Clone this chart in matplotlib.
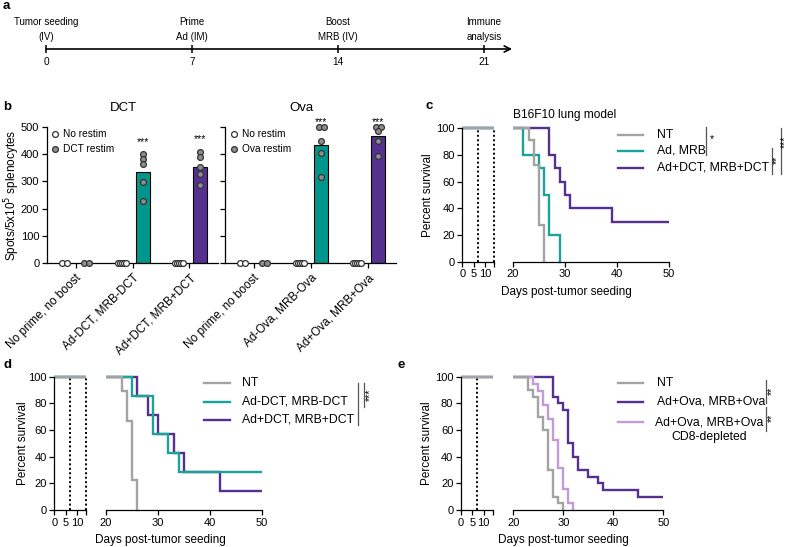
import numpy as np
import matplotlib
matplotlib.use("Agg")
import matplotlib.pyplot as plt
from matplotlib.lines import Line2D

plt.rcParams['font.family'] = ['Liberation Sans', 'DejaVu Sans']
plt.rcParams['axes.linewidth'] = 0.9

W, H = 790, 547

# ---------------- data ----------------
# a: timeline
timeline_days = [0, 7, 14, 21]
timeline_events = ["Tumor seeding\n(IV)", "Prime\nAd (IM)", "Boost\nMRB (IV)", "Immune\nanalysis"]

# b: ELISpot (spots / 5x10^5 splenocytes)
groups_dct = ["No prime, no boost", "Ad-DCT, MRB-DCT", "Ad+DCT, MRB+DCT"]
groups_ova = ["No prime, no boost", "Ad-Ova, MRB-Ova", "Ad+Ova, MRB+Ova"]
dct_norestim = [[0, 0], [0, 0, 0, 0, 0], [0, 0, 0, 0, 0]]
dct_restim = [[0, 0], [400, 381, 363, 299, 229], [410, 391, 353, 326, 287]]
ova_norestim = [[0, 0], [0, 0, 0, 0, 0], [0, 0, 0, 0, 0]]
ova_restim = [[0, 0], [500, 500, 450, 404, 315], [500, 500, 485, 450, 395]]
b_stars = ["", "***", "***"]

# c: B16F10 lung model survival
c_labels = ["NT", "Ad, MRB", "Ad+DCT, MRB+DCT"]
c_nt_days = [0, 23, 24, 25, 26]
c_nt_surv = [100, 90.9, 72.7, 27.3, 0]
c_admrb_days = [0, 22, 25, 26, 27, 29]
c_admrb_surv = [100, 80, 70, 50, 20, 0]
c_dct_days = [0, 27, 28, 29, 30, 31, 39, 50]
c_dct_surv = [100, 80, 70, 60, 50, 40, 30, 30]

# d
d_labels = ["NT", "Ad-DCT, MRB-DCT", "Ad+DCT, MRB+DCT"]
d_nt_days = [0, 23, 24, 25, 26]
d_nt_surv = [100, 88.9, 66.7, 22.2, 0]
d_minus_days = [0, 25, 29, 32, 34, 50]
d_minus_surv = [100, 85.7, 57.1, 42.9, 28.6, 28.6]
d_plus_days = [0, 26, 28, 30, 33, 35, 42, 50]
d_plus_surv = [100, 85.7, 71.4, 57.1, 42.9, 28.6, 14.3, 14.3]

# e
e_labels = ["NT", "Ad+Ova, MRB+Ova", "Ad+Ova, MRB+Ova\nCD8-depleted"]
e_nt_days = [0, 23, 24, 25, 26, 27, 28, 29, 30]
e_nt_surv = [100, 90, 85, 70, 60, 30, 10, 5, 0]
e_ova_days = [0, 28, 29, 30, 31, 32, 33, 35, 37, 38, 45, 50]
e_ova_surv = [100, 85, 80, 75, 50, 40, 30, 25, 20, 15, 10, 10]
e_cd8_days = [0, 24, 25, 26, 27, 28, 29, 30, 31, 32]
e_cd8_surv = [100, 94.7, 89.5, 78.9, 68.4, 52.6, 31.6, 15.8, 5.3, 0]

TEAL = '#00968C'
PURPLE = '#55308F'
GRAY = '#A3A3A3'
LILAC = '#C49BD6'
TEAL_LINE = '#19A39B'

fig = plt.figure(figsize=(W / 100, H / 100), dpi=100)


def add_ax(x0, y0, x1, y1):
    return fig.add_axes([x0 / W, 1 - y1 / H, (x1 - x0) / W, (y1 - y0) / H])


ov = fig.add_axes([0, 0, 1, 1], zorder=10)
ov.set_xlim(0, W)
ov.set_ylim(H, 0)
ov.axis('off')
ov.patch.set_alpha(0)

# panel letters
for lab, (x, y) in zip("abcde", [(3, 6), (3, 107), (425, 106), (3, 365), (398, 365)]):
    ov.text(x, y, lab, fontsize=9.5, fontweight='bold', va='center', ha='left')

# ---------------- a: timeline ----------------
ax_a = add_ax(46, 40, 484, 58)
ax_a.set_xlim(0, 21)
ax_a.set_ylim(-1, 1)
ax_a.axis('off')
ax_a.annotate('', xy=(22.35, 0), xytext=(0, 0), annotation_clip=False,
              arrowprops=dict(arrowstyle='->', lw=1.2, color='black', mutation_scale=11,
                              shrinkA=0, shrinkB=0))
ax_a.vlines(timeline_days, -0.4, 0.4, color='black', lw=1.1, clip_on=False)
for d, ev in zip(timeline_days, timeline_events):
    ax_a.text(d, -1.45, str(d), ha='center', va='center', fontsize=7.3)
    ax_a.text(d, 0.75, ev, ha='center', va='bottom', fontsize=7.0, linespacing=1.65)


# ---------------- b: ELISpot ----------------
def swarm_offsets(vals):
    vals = np.asarray(vals, float)
    offs = np.zeros(len(vals))
    order = np.argsort(-vals, kind='stable')
    clusters = []
    for idx in order:
        if clusters and abs(vals[clusters[-1][-1]] - vals[idx]) < 8:
            clusters[-1].append(idx)
        else:
            clusters.append([idx])
    for c in clusters:
        n = len(c)
        if n > 1:
            offs[c] = (np.arange(n) - (n - 1) / 2) * (0.18 / n)
    return offs


def elispot(ax, groups, norestim, restim, title, show_labels):
    x = np.arange(len(groups))
    bar_cols = [None, TEAL, PURPLE]
    for i in x:
        vals = np.asarray(restim[i], float)
        m = vals.mean()
        if m > 0:
            ax.bar(i + 0.19, m, width=0.25, color=bar_cols[i], edgecolor='black',
                   linewidth=0.8, zorder=2)
        ax.plot(i - 0.19 + swarm_offsets(norestim[i]), norestim[i], 'o', ms=4.2,
                mfc='white', mec='#333333', mew=0.9, clip_on=False, zorder=4)
        ax.plot(i + 0.19 + swarm_offsets(vals), vals, 'o', ms=4.2,
                mfc='#8E8E8E', mec='#333333', mew=0.9, clip_on=False, zorder=4)
        if b_stars[i]:
            ax.text(i + 0.19, min(vals.max() + 28, 500), b_stars[i], ha='center',
                    va='bottom', fontsize=7.5, clip_on=False)
    ax.set_xlim(-0.5, 2.5)
    ax.set_ylim(0, 500)
    ax.set_yticks([0, 100, 200, 300, 400, 500])
    ax.set_xticks(x)
    ax.set_xticklabels(groups, rotation=45, ha='right', va='top', rotation_mode='anchor',
                       fontsize=8.5)
    ax.tick_params(axis='both', length=3.5, width=0.9, labelsize=8, pad=2)
    ax.tick_params(axis='x', labelsize=8.5, pad=3)
    if not show_labels:
        ax.set_yticklabels([])
    for s in ['top', 'right']:
        ax.spines[s].set_visible(False)
    ax.text(0.84, 1.14, title, transform=ax.get_xaxis_transform(), ha='center',
            va='center', fontsize=9.5)


ax_b1 = add_ax(47, 127.1, 218, 263)
elispot(ax_b1, groups_dct, dct_norestim, dct_restim, "DCT", True)
ax_b2 = add_ax(225, 127.1, 396, 263)
elispot(ax_b2, groups_ova, ova_norestim, ova_restim, "Ova", False)

ov.text(12, 195, "Spots/5x10$^5$ splenocytes", rotation=90, ha='center', va='center',
        fontsize=8.5)
for (mx, tx), name in [((54.5, 63), "DCT restim"), ((234, 242.5), "Ova restim")]:
    ov.plot(mx, 134.3, 'o', ms=4.2, mfc='white', mec='#333333', mew=0.9)
    ov.plot(mx, 149.3, 'o', ms=4.2, mfc='#8E8E8E', mec='#333333', mew=0.9)
    ov.text(tx, 134.3, "No restim", va='center', fontsize=7.3)
    ov.text(tx, 149.3, name, va='center', fontsize=7.3)


# ---------------- survival panels ----------------
def survival(left_box, right_box, curves, dotted_days):
    axL = add_ax(*left_box)
    axR = add_ax(*right_box)
    for ax in (axL, axR):
        for days, surv, col in curves:
            ax.step(days, surv, where='post', color=col, lw=1.7, solid_joinstyle='miter')
        ax.set_ylim(-1.5, 101.5)
        ax.spines['top'].set_visible(False)
        ax.spines['right'].set_visible(False)
        ax.spines['bottom'].set_position(('data', 0))
        ax.tick_params(axis='both', length=3.5, width=0.9, labelsize=8, pad=2)
    axL.set_xlim(0, 14)
    axL.spines['bottom'].set_bounds(0, 14)
    axL.spines['left'].set_bounds(0, 100)
    axL.set_xticks([0, 5, 10, 14])
    axL.set_xticklabels(['0', '5', '10', ''])
    axL.set_yticks([0, 20, 40, 60, 80, 100])
    axL.vlines(dotted_days, 0, 100, colors='black', linestyles=(0, (1, 1.3)), lw=1.4,
               clip_on=False, zorder=1)
    axR.set_xlim(20, 50)
    axR.spines['bottom'].set_bounds(20, 50)
    axR.spines['left'].set_visible(False)
    axR.set_yticks([])
    axR.set_xticks([20, 30, 40, 50])
    return axL, axR


def legend_rows(x0, x1, xt, rows):
    for y, col, text in rows:
        ov.add_line(Line2D([x0, x1], [y, y], color=col, lw=1.7))
        ov.text(xt, y, text, va='center', ha='left', fontsize=8.8)


def bracket(x, y0, y1, stars, sx, sy, rot):
    ov.add_line(Line2D([x, x], [y0, y1], color='#555555', lw=0.9))
    if stars:
        ov.text(sx, sy, stars, rotation=rot, ha='center', va='center', fontsize=7.5)


# c
survival((462.3, 126.3, 494, 263.7), (513, 126.3, 669, 263.7),
         [(c_dct_days, c_dct_surv, PURPLE), (c_admrb_days, c_admrb_surv, TEAL_LINE),
          (c_nt_days, c_nt_surv, GRAY)], [7, 14])
ov.text(513, 115, "B16F10 lung model", fontsize=8.6, va='center')
legend_rows(618, 643, 657, [(135, GRAY, c_labels[0]), (150.5, TEAL_LINE, c_labels[1]),
                            (168, PURPLE, c_labels[2])])
bracket(706, 127, 155, "*", 711.5, 139, 0)
bracket(772, 148, 174, "**", 776.5, 160, 90)
bracket(781, 128, 174, "***", 785, 142, 90)
ov.text(428, 195, "Percent survival", rotation=90, ha='center', va='center', fontsize=8.5)
ov.text(566, 291.5, "Days post-tumor seeding", ha='center', va='center', fontsize=8.5)

# d
survival((54.3, 374.7, 86, 512), (106, 374.7, 262, 512),
         [(d_plus_days, d_plus_surv, PURPLE), (d_minus_days, d_minus_surv, TEAL_LINE),
          (d_nt_days, d_nt_surv, GRAY)], [7, 14])
legend_rows(204, 230, 242, [(383.3, GRAY, d_labels[0]), (401.7, TEAL_LINE, d_labels[1]),
                            (420, PURPLE, d_labels[2])])
bracket(357.7, 383, 425, "", 0, 0, 0)
bracket(364, 383, 406.5, "***", 369.5, 395, 90)
ov.text(23, 443, "Percent survival", rotation=90, ha='center', va='center', fontsize=8.5)
ov.text(160, 540, "Days post-tumor seeding", ha='center', va='center', fontsize=8.5)

# e
survival((461, 374.7, 492.7, 512), (513.3, 374.7, 663.3, 512),
         [(e_ova_days, e_ova_surv, PURPLE), (e_cd8_days, e_cd8_surv, LILAC),
          (e_nt_days, e_nt_surv, GRAY)], [7])
legend_rows(618, 643, 657, [(383.3, GRAY, e_labels[0]), (401.7, PURPLE, e_labels[1])])
ov.add_line(Line2D([618, 643], [421.7, 421.7], color=LILAC, lw=1.7))
ov.text(709.5, 429.5, e_labels[2], ha='center', va='center', fontsize=8.8, linespacing=1.3)
bracket(766, 380, 403, "**", 771.5, 391, 90)
bracket(766, 407, 431, "**", 771.5, 418, 90)
ov.text(427, 443, "Percent survival", rotation=90, ha='center', va='center', fontsize=8.5)
ov.text(563, 540, "Days post-tumor seeding", ha='center', va='center', fontsize=8.5)

fig.savefig("out.png", dpi=100)
